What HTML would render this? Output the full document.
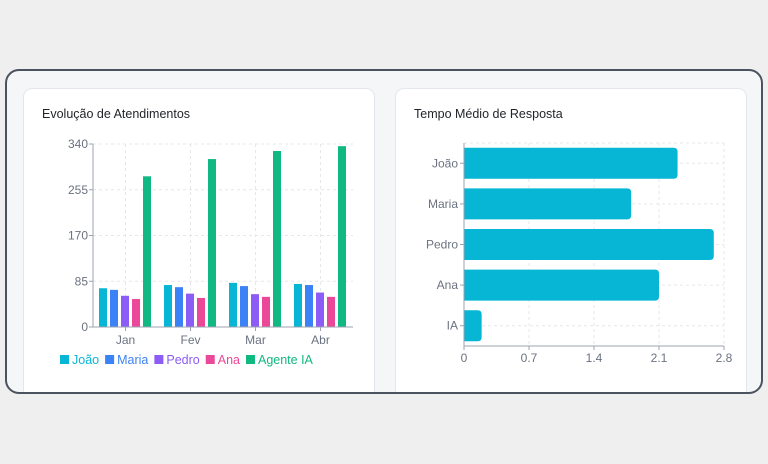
<!DOCTYPE html>
<html><head><meta charset="utf-8"><style>
body{margin:0;width:768px;height:464px;background:#efefef;font-family:"Liberation Sans",sans-serif;position:relative;overflow:hidden}
#frame{position:absolute;left:5px;top:69px;width:754px;height:321px;border:2.5px solid #4b5260;border-radius:14px;background:#f5f6f8;overflow:hidden}
.card{position:absolute;top:17px;width:350px;height:330px;background:#fff;border:1px solid #e3e6ea;border-radius:9px}
.title{position:absolute;left:18px;top:18px;font-size:12.5px;color:#1f2328}
svg{position:absolute;left:0;top:0}
</style></head><body>
<div id="frame">
<div class="card" style="left:16px">
<div class="title">Evolução de Atendimentos</div>
<svg id="c1" width="352" height="330"></svg>
</div>
<div class="card" style="left:388px">
<div class="title">Tempo Médio de Resposta</div>
<svg id="c2" width="352" height="330"></svg>
</div>
</div>
<script>
const months=["Jan","Fev","Mar","Abr"];
const seriesNames=["João","Maria","Pedro","Ana","Agente IA"];
const joao=[72,78,82,80];
const maria=[69,74,76,78];
const pedro=[58,62,61,64];
const ana=[52,54,56,56];
const agente=[280,312,327,336];
const yTicks=[0,85,170,255,340];
const agents=["João","Maria","Pedro","Ana","IA"];
const times=[2.3,1.8,2.69,2.1,0.19];
const xTicks=[0,0.7,1.4,2.1,2.8];
const colors=["#06b6d4","#3b82f6","#8b5cf6","#ec4899","#10b981"];
const NS="http://www.w3.org/2000/svg";
function mk(p,t,a){const e=document.createElementNS(NS,t);for(const k in a)e.setAttribute(k,a[k]);p.appendChild(e);return e;}
// chart 1 (card origin 24,89 page)
(function(){
const s=document.getElementById('c1');
const ox=-24,oy=-89;
const x0=93+ox,x1=353+ox,yb=327+oy,yt=144+oy;
const y=v=>yb-(v/340)*(yb-yt);
const band=(x1-x0)/months.length;
yTicks.forEach(t=>{
 const g=mk(s,'line',{x1:x0,x2:x1,y1:y(t),y2:y(t),stroke:'#e5e7eb','stroke-dasharray':'3 3'});
 
 const tx=mk(s,'text',{x:x0-5,y:y(t)+4,'text-anchor':'end','font-size':'12',fill:'#6b7280'});tx.textContent=t;
 
 mk(s,'line',{x1:x0-4,x2:x0,y1:y(t),y2:y(t),stroke:'#9ca3af'});
});
months.forEach((m,i)=>{
 const cx=x0+band*(i+0.5);
 const g=mk(s,'line',{x1:cx,x2:cx,y1:yt,y2:yb,stroke:'#e5e7eb','stroke-dasharray':'3 3'});
 
});
const data=[joao,maria,pedro,ana,agente];
months.forEach((m,i)=>{
 const start=x0+band*i+6;
 data.forEach((arr,k)=>{
  const r=mk(s,'rect',{x:start+k*11,y:y(arr[i]),width:8,height:yb-y(arr[i]),fill:colors[k]});
  
  
 });
 const cx=x0+band*(i+0.5);
 mk(s,'line',{x1:cx,x2:cx,y1:yb,y2:yb+4,stroke:'#9ca3af'});
 const tx=mk(s,'text',{x:cx,y:yb+17,'text-anchor':'middle','font-size':'12',fill:'#6b7280'});tx.textContent=m;
 
});
mk(s,'line',{x1:x0,x2:x0,y1:yt,y2:yb,stroke:'#9ca3af'});
mk(s,'line',{x1:x0,x2:x1,y1:yb,y2:yb,stroke:'#9ca3af'});
let lx=60+ox;const ly=360+oy;
seriesNames.forEach((n,k)=>{
 const r=mk(s,'rect',{x:lx,y:ly-5,width:9,height:9,fill:colors[k]});
 
 const t=mk(s,'text',{x:lx+12,y:ly+4,'font-size':'12.5',fill:colors[k]});t.textContent=n;
 
 lx+=12+t.getComputedTextLength()+6;
});
})();
// chart 2 (card origin 396,89)
(function(){
const s=document.getElementById('c2');
const ox=-396,oy=-89;
const x0=464+ox,x1=724+ox,yt=143+oy,yb=346+oy;
const x=v=>x0+(v/2.8)*(x1-x0);
const band=(yb-yt)/agents.length;
xTicks.forEach(t=>{
 const g=mk(s,'line',{x1:x(t),x2:x(t),y1:yt,y2:yb,stroke:'#e5e7eb','stroke-dasharray':'3 3'});
 
 mk(s,'line',{x1:x(t),x2:x(t),y1:yb,y2:yb+4,stroke:'#9ca3af'});
 const tx=mk(s,'text',{x:x(t),y:yb+16,'text-anchor':'middle','font-size':'12',fill:'#6b7280'});tx.textContent=t;
 
});
mk(s,'line',{x1:x0,x2:x1,y1:yt,y2:yt,stroke:'#e5e7eb','stroke-dasharray':'3 3'});
agents.forEach((a,i)=>{
 const cy=yt+band*(i+0.5);
 const g=mk(s,'line',{x1:x0,x2:x1,y1:cy,y2:cy,stroke:'#e5e7eb','stroke-dasharray':'3 3'});
 
 const w=x(times[i])-x0,h=31,by=cy-h/2,r=4;
 const p=mk(s,'path',{d:`M${x0},${by}H${x0+w-r}Q${x0+w},${by} ${x0+w},${by+r}V${by+h-r}Q${x0+w},${by+h} ${x0+w-r},${by+h}H${x0}Z`,fill:'#06b6d4'});
 
 
 mk(s,'line',{x1:x0-4,x2:x0,y1:cy,y2:cy,stroke:'#9ca3af'});
 const tx=mk(s,'text',{x:x0-6,y:cy+4,'text-anchor':'end','font-size':'12',fill:'#6b7280'});tx.textContent=a;
 
});
mk(s,'line',{x1:x0,x2:x0,y1:yt,y2:yb,stroke:'#9ca3af'});
mk(s,'line',{x1:x0,x2:x1,y1:yb,y2:yb,stroke:'#9ca3af'});
})();
</script>
</body></html>
